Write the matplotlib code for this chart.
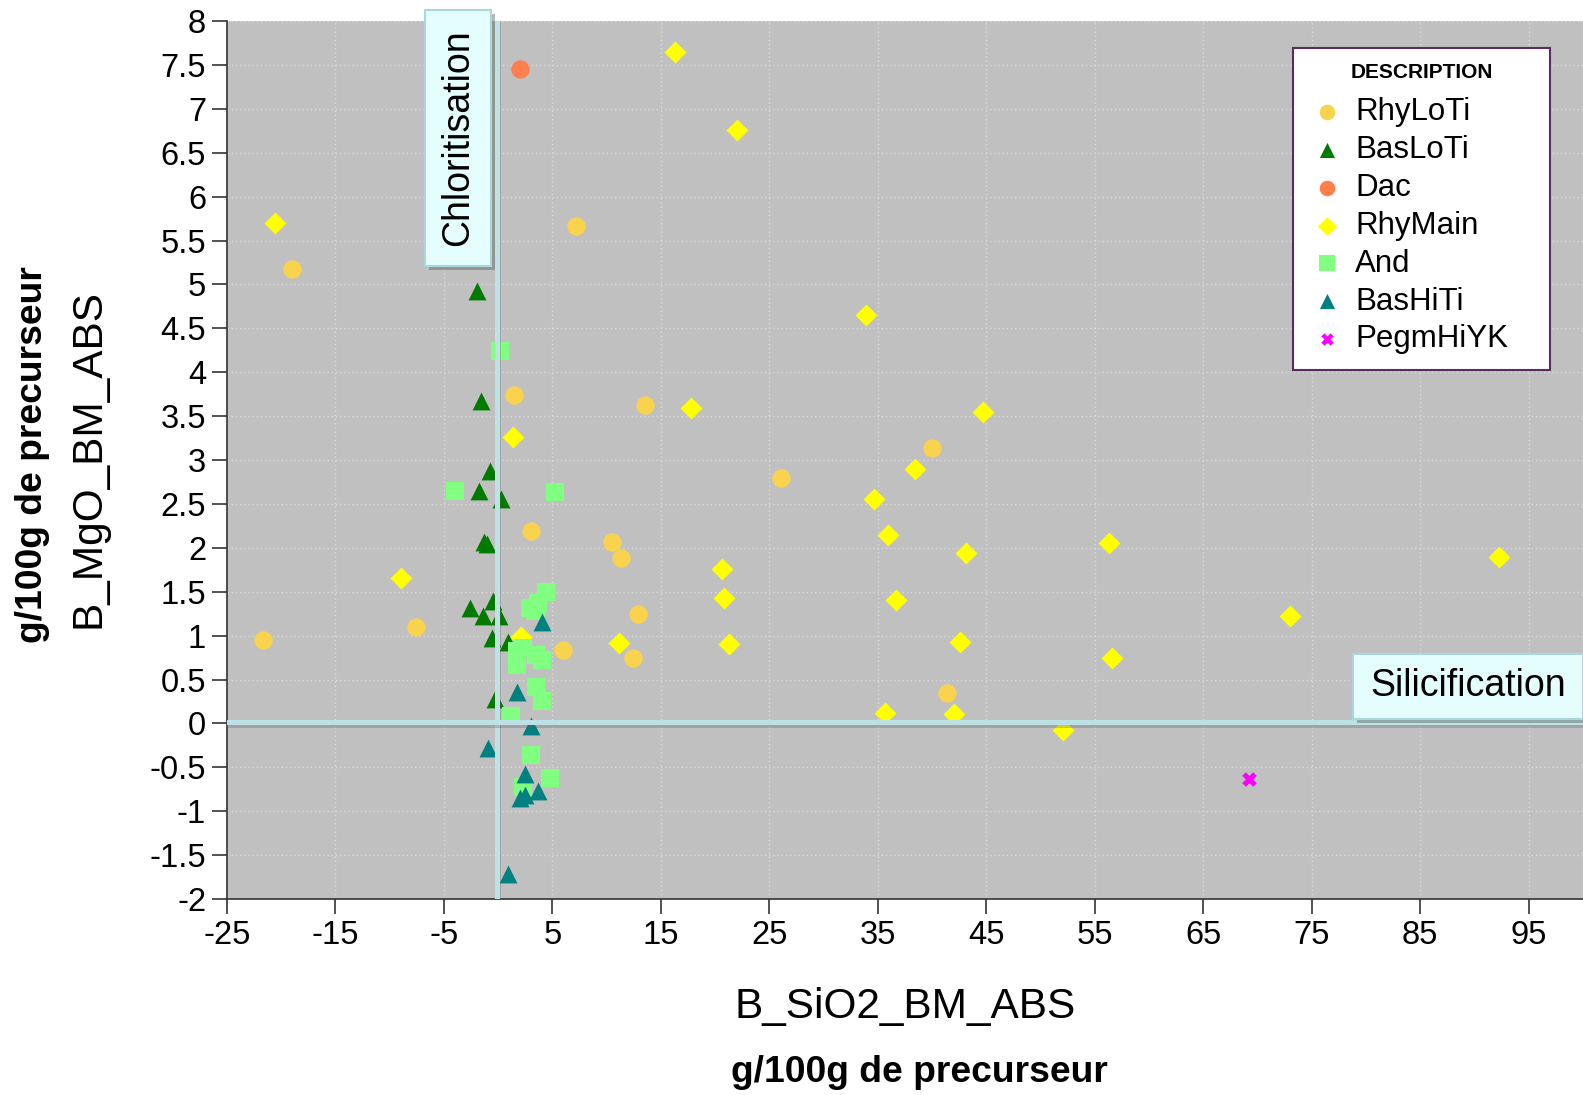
import matplotlib
matplotlib.use("Agg")
import matplotlib.pyplot as plt
import matplotlib.patheffects as pe
from matplotlib.patches import Rectangle
from matplotlib.ticker import FuncFormatter, MultipleLocator

plt.rcParams['font.family'] = ['Liberation Sans', 'DejaVu Sans']
plt.rcParams['axes.unicode_minus'] = False

rhyloti_x = [-21.7, -19.0, -7.6, 7.2, 1.5, 13.5, 3.0, 10.5, 11.3, 12.9, 6.0, 12.4, 26.1, 40.0, 41.4]
rhyloti_y = [0.95, 5.18, 1.10, 5.66, 3.74, 3.63, 2.19, 2.07, 1.88, 1.25, 0.84, 0.75, 2.79, 3.14, 0.35]

basloti_x = [-2.0, -1.55, -0.8, -1.74, 0.3, -1.3, -1.0, -2.6, -0.5, -1.4, 0.1, -0.6, 0.9, -0.26]
basloti_y = [4.93, 3.67, 2.87, 2.65, 2.56, 2.07, 2.04, 1.31, 1.39, 1.22, 1.22, 0.97, 0.93, 0.28]

dac_x = [2.0]
dac_y = [7.45]

rhymain_x = [-20.6, -9.0, 16.3, 22.0, 1.4, 17.8, 2.1, 11.1, 20.6, 20.8, 21.3, 33.9, 34.6, 35.9,
             36.7, 38.4, 44.7, 43.1, 42.6, 35.7, 42.0, 52.1, 56.3, 56.6, 73.0, 92.3]
rhymain_y = [5.70, 1.66, 7.65, 6.76, 3.26, 3.59, 0.98, 0.92, 1.76, 1.43, 0.90, 4.65, 2.56, 2.15,
             1.41, 2.90, 3.55, 1.94, 0.93, 0.12, 0.11, -0.07, 2.05, 0.74, 1.22, 1.89]

and_x = [0.2, -4.0, 5.2, 4.4, 3.65, 2.9, 3.5, 1.7, 2.26, 3.5, 4.0, 1.7, 3.5, 4.0, 1.2, 3.05, 4.75, 2.26]
and_y = [4.24, 2.65, 2.63, 1.50, 1.37, 1.31, 1.28, 0.82, 0.86, 0.78, 0.72, 0.67, 0.42, 0.26, 0.08, -0.36, -0.62, -0.72]

bashiti_x = [4.0, 1.7, 3.05, -0.95, 2.44, 2.44, 3.65, 2.0, 0.9]
bashiti_y = [1.16, 0.36, -0.03, -0.28, -0.58, -0.81, -0.77, -0.85, -1.72]

pegm_x = [69.2]
pegm_y = [-0.63]

fig = plt.figure(figsize=(15.83, 10.95), dpi=100)
ax = fig.add_axes([0.1434, 0.179, 1 - 0.1434, 0.9808 - 0.179])
ax.set_facecolor('#C0C0C0')
ax.set_xlim(-25, 100)
ax.set_ylim(-2, 8)
ax.set_xticks(list(range(-25, 100, 10)))
ax.yaxis.set_major_locator(MultipleLocator(0.5))
ax.yaxis.set_major_formatter(FuncFormatter(lambda v, p: f"{v:g}"))
ax.grid(True, color='#DADADA', linestyle=(0, (1, 2)), linewidth=1.0)
ax.set_axisbelow(True)
for s in ['top', 'right']:
    ax.spines[s].set_visible(False)
for s in ['left', 'bottom']:
    ax.spines[s].set_color('#333333')
    ax.spines[s].set_linewidth(1.2)
ax.tick_params(axis='both', direction='out', length=11, width=1.2, labelsize=23.5, color='#333333', pad=4)

ax.scatter(rhyloti_x, rhyloti_y, s=175, marker='o', color='#F9D24E', label='RhyLoTi', zorder=3, linewidths=0)
ax.scatter(basloti_x, basloti_y, s=165, marker='^', color='#007A00', label='BasLoTi', zorder=3, linewidths=0)
ax.scatter(dac_x, dac_y, s=175, marker='o', color='#FF7F4F', label='Dac', zorder=3, linewidths=0)
ax.scatter(rhymain_x, rhymain_y, s=125, marker='D', color='#FFFF00', label='RhyMain', zorder=3, linewidths=0)
ax.scatter(and_x, and_y, s=185, marker='s', color='#80FF80', label='And', zorder=3, linewidths=0)
ax.scatter(bashiti_x, bashiti_y, s=165, marker='^', color='#008080', label='BasHiTi', zorder=3, linewidths=0)
ax.scatter(pegm_x, pegm_y, s=110, marker='X', color='#FF00FF', label='PegmHiYK', zorder=3, linewidths=0)

shadow = [pe.SimpleLineShadow(offset=(1, -2.5), shadow_color='#606060', alpha=0.3), pe.Normal()]
ax.axvline(-0.15, color='#BCE2E5', linewidth=3.6, zorder=4, path_effects=shadow)
ax.axhline(0.02, color='#BCE2E5', linewidth=3.6, zorder=4, path_effects=shadow)

leg = ax.legend(loc='upper left', bbox_to_anchor=(0.786, 0.0, 0.1897, 0.9698), mode='expand', borderaxespad=0,
                title='DESCRIPTION', fontsize=22.5, title_fontproperties={'weight': 'bold', 'size': 15},
                frameon=True, fancybox=False, edgecolor='#5A2D5E', facecolor='white', framealpha=1,
                markerscale=0.85, handletextpad=0.3, labelspacing=0.25, borderpad=0.5, handlelength=1.2)
leg.get_frame().set_linewidth(1.5)
leg.set_zorder(6)
try:
    leg._legend_box.sep = 11
except Exception:
    pass

# Annotation boxes
def box(cx, cy, w, h, text, rot):
    r = Rectangle((cx - w / 2, cy - h / 2), w, h, transform=fig.transFigure,
                  facecolor='#E4FDFD', edgecolor='#A8D8DC', linewidth=1.5, zorder=10,
                  path_effects=[pe.SimplePatchShadow(offset=(3, -3), shadow_rgbFace='#606060', alpha=0.45), pe.Normal()])
    fig.add_artist(r)
    fig.text(cx, cy, text, rotation=rot, ha='center', va='center', fontsize=27, zorder=11)

box(458 / 1583, 1 - 138 / 1095, 66 / 1583, 256 / 1095, 'Chloritisation', 90)
box(1468 / 1583, 1 - 686.5 / 1095, 230 / 1583, 65 / 1095, 'Silicification', 0)

fig.text(0.5718, 0.0808, 'B_SiO2_BM_ABS', ha='center', va='center', fontsize=30.5)
fig.text(0.581, 0.021, 'g/100g de precurseur', ha='center', va='center', fontsize=26.8, fontweight='bold')
fig.text(0.0562, 0.581, 'B_MgO_BM_ABS', ha='center', va='center', fontsize=30.5, rotation=90)
fig.text(0.0204, 0.585, 'g/100g de precurseur', ha='center', va='center', fontsize=26.8, fontweight='bold', rotation=90)

fig.savefig('out.png', dpi=100)
